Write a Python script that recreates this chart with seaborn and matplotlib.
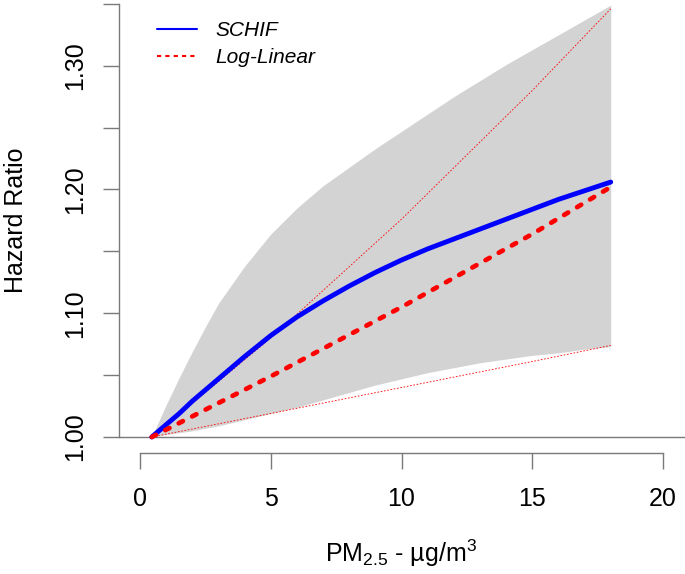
import numpy as np
import matplotlib
matplotlib.use('Agg')
import matplotlib.pyplot as plt
import seaborn as sns
from matplotlib.lines import Line2D

# SCHIF curve and its band
pm25 = [0.45, 1, 1.5, 2, 2.5, 3, 4, 5, 6, 7, 8, 9, 10, 11, 12, 13, 14, 15, 16, 17, 18]
schif_hr = [1.000, 1.010, 1.019, 1.029, 1.038, 1.047, 1.065, 1.082, 1.097, 1.110, 1.122,
            1.133, 1.143, 1.152, 1.160, 1.168, 1.176, 1.184, 1.192, 1.199, 1.206]
schif_lo = [1.000, 1.002, 1.0035, 1.005, 1.007, 1.009, 1.014, 1.019, 1.024, 1.030, 1.036,
            1.042, 1.047, 1.052, 1.056, 1.060, 1.063, 1.066, 1.068, 1.071, 1.073]
schif_hi = [1.000, 1.026, 1.048, 1.069, 1.089, 1.108, 1.138, 1.164, 1.185, 1.203, 1.218,
            1.233, 1.247, 1.261, 1.275, 1.288, 1.301, 1.313, 1.325, 1.337, 1.349]

# log-linear fit with its interval
loglin_x = [0.45, 5, 10, 15, 18]
loglin_hr = [1.000, 1.049, 1.105, 1.164, 1.202]
loglin_lo = [1.000, 1.019, 1.040, 1.061, 1.074]
loglin_hi = [1.000, 1.080, 1.176, 1.280, 1.346]

x_ticks = [0, 5, 10, 15, 20]
y_ticks = [1.00, 1.05, 1.10, 1.15, 1.20, 1.25, 1.30, 1.35]
y_labels = ['1.00', '', '1.10', '', '1.20', '', '1.30', '']
legend_labels = ['SCHIF', 'Log-Linear']

sns.set_style('white')
plt.rcParams['font.family'] = ['Liberation Sans', 'DejaVu Sans']
plt.rcParams['text.color'] = 'black'
plt.rcParams['axes.labelcolor'] = 'black'
plt.rcParams['mathtext.fontset'] = 'custom'
plt.rcParams['mathtext.rm'] = 'Liberation Sans'
plt.rcParams['mathtext.it'] = 'Liberation Sans:italic'

fig = plt.figure(figsize=(6.85, 5.74), dpi=100)
ax = fig.add_axes([0.1733, 0.2108, 0.8267, 0.7892])

axis_col = '#7a7a7a'
ax.axhline(1.0, color=axis_col, lw=1.0, zorder=1)
ax.fill_between(pm25, schif_lo, schif_hi, color='#d3d3d3', lw=0, zorder=2)
for ci in (loglin_lo, loglin_hi):
    sns.lineplot(x=loglin_x, y=ci, color='red', lw=0.6, linestyle=(0, (2, 2)),
                 ax=ax, zorder=3)
sns.lineplot(x=pm25, y=schif_hr, color='blue', lw=3.5, ax=ax, zorder=4)
sns.lineplot(x=loglin_x, y=loglin_hr, color='red', lw=3.4, linestyle=(0, (1.0, 2.2)),
             dash_capstyle='round', ax=ax, zorder=5)

ax.set_xlim(-0.8145, 20.84)
ax.set_ylim(0.98707, 1.35313)

for side in ('top', 'right'):
    ax.spines[side].set_visible(False)
ax.spines['left'].set_bounds(1.0, 1.35)
ax.spines['bottom'].set_bounds(0, 20)
for side in ('left', 'bottom'):
    ax.spines[side].set_color(axis_col)
    ax.spines[side].set_linewidth(1.0)

ax.set_xticks(x_ticks)
ax.set_yticks(y_ticks)
ax.set_yticklabels(y_labels, rotation=90, va='center')
ax.tick_params(axis='both', bottom=True, left=True, direction='out', length=11.5,
               width=1.0, color=axis_col, labelsize=18, labelcolor='black')
ax.tick_params(axis='x', pad=13)
ax.tick_params(axis='y', pad=11.5)

ax.set_xlabel('PM$_{2.5}$ - µg/m$^3$', fontsize=18)
ax.xaxis.set_label_coords(0.4994, -0.186)
ax.set_ylabel('Hazard Ratio', fontsize=18)
ax.yaxis.set_label_coords(-0.161, 0.514)

handles = [Line2D([], [], color='blue', lw=1.5),
           Line2D([], [], color='red', lw=1.5, linestyle=(0, (2, 2)))]
ax.legend(handles, legend_labels, loc='upper left',
          bbox_to_anchor=(157 / 685, 1 - 21 / 574), bbox_transform=fig.transFigure,
          frameon=False, prop={'style': 'italic', 'size': 15},
          handlelength=1.92, handletextpad=0.87, labelspacing=0.38,
          borderpad=0, borderaxespad=0)

fig.savefig('out.png', dpi=100)
